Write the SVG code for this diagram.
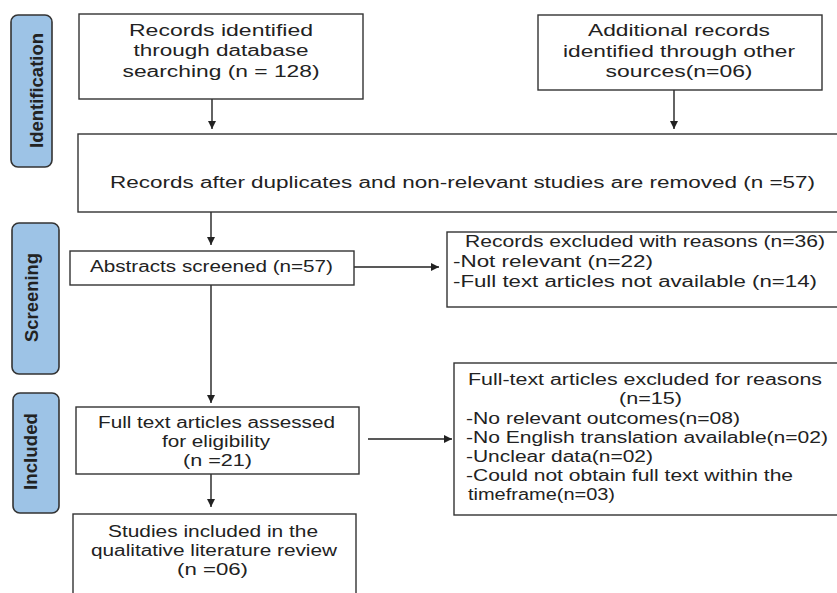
<svg xmlns="http://www.w3.org/2000/svg" width="837" height="593" viewBox="0 0 837 593">
<style>
.box{fill:#fff;stroke:#333;stroke-width:1.4}
.pill{fill:#9dc3e6;stroke:#333;stroke-width:1.6}
.t{font-family:"Liberation Sans",Arial,sans-serif;font-size:16px;fill:#222}
.m{text-anchor:middle}
.p{font-family:"Liberation Sans",Arial,sans-serif;font-size:18px;font-weight:bold;fill:#222;text-anchor:middle}
.c{stroke:#222;stroke-width:1.4;fill:none}
</style>
<defs>
<marker id="ah" viewBox="0 0 10 10" refX="10" refY="5" markerWidth="9" markerHeight="8" markerUnits="userSpaceOnUse" orient="auto">
<path d="M0,0 L10,5 L0,10 z" fill="#222"/>
</marker>
</defs>
<rect width="837" height="593" fill="#fff"/>

<g id="phase-identification">
<rect class="pill" x="11" y="15" width="41" height="152" rx="7"/>
<text class="p" transform="translate(43,90.5) rotate(-90)" textLength="115" lengthAdjust="spacingAndGlyphs">Identification</text>
</g>
<g id="phase-screening">
<rect class="pill" x="12" y="223" width="47" height="151" rx="7"/>
<text class="p" transform="translate(38,297.5) rotate(-90)" textLength="89" lengthAdjust="spacingAndGlyphs">Screening</text>
</g>
<g id="phase-included">
<rect class="pill" x="13" y="393" width="46" height="120" rx="7"/>
<text class="p" transform="translate(37,451.5) rotate(-90)" textLength="77" lengthAdjust="spacingAndGlyphs">Included</text>
</g>

<g id="connectors">
<line class="c" x1="212" y1="99" x2="212" y2="129" marker-end="url(#ah)"/>
<line class="c" x1="674" y1="90" x2="674" y2="129" marker-end="url(#ah)"/>
<line class="c" x1="211" y1="212" x2="211" y2="245" marker-end="url(#ah)"/>
<line class="c" x1="354" y1="267" x2="439" y2="267" marker-end="url(#ah)"/>
<line class="c" x1="211" y1="285" x2="211" y2="403" marker-end="url(#ah)"/>
<line class="c" x1="368" y1="439" x2="452" y2="439" marker-end="url(#ah)"/>
<line class="c" x1="211" y1="474" x2="211" y2="507" marker-end="url(#ah)"/>
</g>

<g id="db-records">
<rect class="box" x="79" y="14" width="284" height="85"/>
<text class="t m" x="221" y="36" textLength="184" lengthAdjust="spacingAndGlyphs">Records identified</text>
<text class="t m" x="221" y="56" textLength="175" lengthAdjust="spacingAndGlyphs">through database</text>
<text class="t m" x="221" y="77" textLength="197" lengthAdjust="spacingAndGlyphs">searching (n = 128)</text>
</g>

<g id="other-records">
<rect class="box" x="538" y="15" width="284" height="75"/>
<text class="t m" x="679" y="36" textLength="182" lengthAdjust="spacingAndGlyphs">Additional records</text>
<text class="t m" x="679" y="57" textLength="232" lengthAdjust="spacingAndGlyphs">identified through other</text>
<text class="t m" x="679" y="77" textLength="147" lengthAdjust="spacingAndGlyphs">sources(n=06)</text>
</g>

<g id="after-duplicates">
<rect class="box" x="78" y="134" width="765" height="78"/>
<text class="t" x="110" y="188" textLength="705" lengthAdjust="spacingAndGlyphs">Records after duplicates and non-relevant studies are removed (n =57)</text>
</g>

<g id="abstracts">
<rect class="box" x="70" y="251" width="284" height="34"/>
<text class="t" x="90" y="272" textLength="243" lengthAdjust="spacingAndGlyphs">Abstracts screened (n=57)</text>
</g>

<g id="records-excluded">
<rect class="box" x="447" y="232" width="396" height="75"/>
<text class="t" x="465" y="247" textLength="360" lengthAdjust="spacingAndGlyphs">Records excluded with reasons (n=36)</text>
<text class="t" x="453" y="267" textLength="200" lengthAdjust="spacingAndGlyphs">-Not relevant (n=22)</text>
<text class="t" x="453" y="287" textLength="364" lengthAdjust="spacingAndGlyphs">-Full text articles not available (n=14)</text>
</g>

<g id="full-text-assessed">
<rect class="box" x="76" y="407" width="283" height="67"/>
<text class="t m" x="216.5" y="428" textLength="237" lengthAdjust="spacingAndGlyphs">Full text articles assessed</text>
<text class="t m" x="216" y="447" textLength="108" lengthAdjust="spacingAndGlyphs">for eligibility</text>
<text class="t m" x="217.5" y="466" textLength="69" lengthAdjust="spacingAndGlyphs">(n =21)</text>
</g>

<g id="full-text-excluded">
<rect class="box" x="454" y="363" width="389" height="152"/>
<text class="t m" x="645" y="385" textLength="354" lengthAdjust="spacingAndGlyphs">Full-text articles excluded for reasons</text>
<text class="t m" x="650.5" y="404" textLength="63" lengthAdjust="spacingAndGlyphs">(n=15)</text>
<text class="t" x="466" y="424" textLength="274" lengthAdjust="spacingAndGlyphs">-No relevant outcomes(n=08)</text>
<text class="t" x="466" y="443" textLength="362" lengthAdjust="spacingAndGlyphs">-No English translation available(n=02)</text>
<text class="t" x="466" y="462" textLength="187" lengthAdjust="spacingAndGlyphs">-Unclear data(n=02)</text>
<text class="t" x="466" y="481" textLength="327" lengthAdjust="spacingAndGlyphs">-Could not obtain full text within the</text>
<text class="t" x="468" y="500" textLength="147" lengthAdjust="spacingAndGlyphs">timeframe(n=03)</text>
</g>

<g id="studies-included">
<rect class="box" x="73" y="514" width="283" height="95"/>
<text class="t m" x="213" y="537" textLength="210" lengthAdjust="spacingAndGlyphs">Studies included in the</text>
<text class="t m" x="214" y="556" textLength="246" lengthAdjust="spacingAndGlyphs">qualitative literature review</text>
<text class="t m" x="212.5" y="575" textLength="71" lengthAdjust="spacingAndGlyphs">(n =06)</text>
</g>
</svg>
